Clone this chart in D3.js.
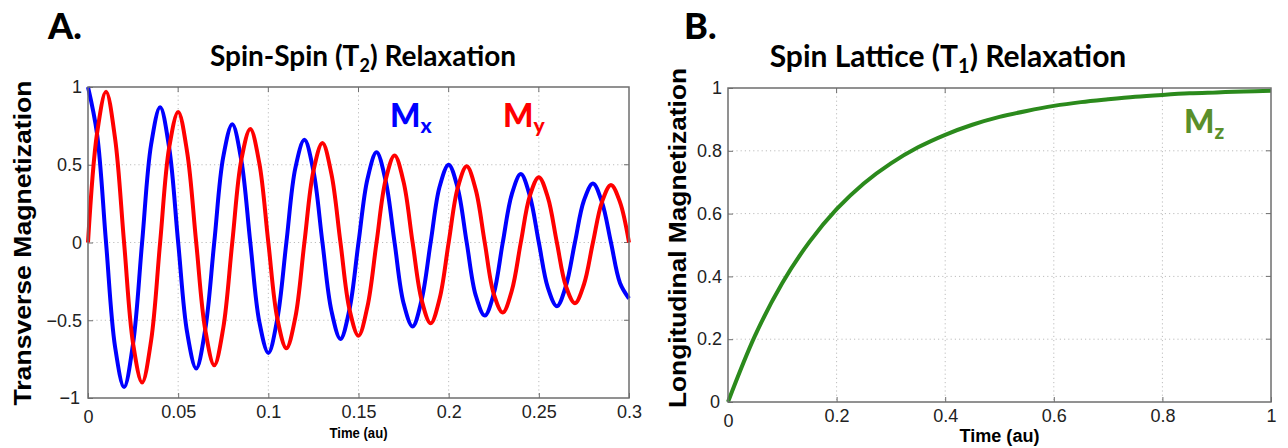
<!DOCTYPE html>
<html>
<head>
<meta charset="utf-8">
<script src="https://cdn.jsdelivr.net/npm/d3@7"></script>
<style>
	body { margin: 0; background: #fff; }
	svg { display: block; }
	.tick text { font-family: "Liberation Sans", Arial, sans-serif; fill: #222; }
</style>
</head>
<body>
<div id="chart"></div>
<script>
// Spin-spin (T2) panel: time samples every 0.005 au
const t2Time = [
	0, 0.005, 0.01, 0.015, 0.02, 0.025, 0.03, 0.035, 0.04, 0.045,
	0.05, 0.055, 0.06, 0.065, 0.07, 0.075, 0.08, 0.085, 0.09, 0.095,
	0.1, 0.105, 0.11, 0.115, 0.12, 0.125, 0.13, 0.135, 0.14, 0.145,
	0.15, 0.155, 0.16, 0.165, 0.17, 0.175, 0.18, 0.185, 0.19, 0.195,
	0.2, 0.205, 0.21, 0.215, 0.22, 0.225, 0.23, 0.235, 0.24, 0.245,
	0.25, 0.255, 0.26, 0.265, 0.27, 0.275, 0.28, 0.285, 0.29, 0.295, 0.3
];
const mxValues = [
	1.00, 0.70, 0, -0.67, -0.93, -0.65, 0, 0.63, 0.87, 0.61,
	0, -0.58, -0.81, -0.56, 0, 0.55, 0.76, 0.53, 0, -0.51,
	-0.71, -0.49, 0, 0.48, 0.66, 0.46, 0, -0.44, -0.62, -0.43,
	0, 0.41, 0.58, 0.40, 0, -0.39, -0.54, -0.37, 0, 0.36,
	0.50, 0.35, 0, -0.34, -0.47, -0.33, 0, 0.31, 0.44, 0.30,
	0, -0.29, -0.41, -0.28, 0, 0.27, 0.38, 0.26, 0, -0.26, -0.36
];
const myValues = [
	0, 0.70, 0.97, 0.67, 0, -0.65, -0.90, -0.63, 0, 0.61,
	0.84, 0.58, 0, -0.56, -0.79, -0.55, 0, 0.53, 0.73, 0.51,
	0, -0.49, -0.68, -0.48, 0, 0.46, 0.64, 0.44, 0, -0.43,
	-0.60, -0.41, 0, 0.40, 0.56, 0.39, 0, -0.37, -0.52, -0.36,
	0, 0.35, 0.49, 0.34, 0, -0.33, -0.45, -0.31, 0, 0.30,
	0.42, 0.29, 0, -0.28, -0.39, -0.27, 0, 0.26, 0.37, 0.26, 0
];
const t2XTicks = [0, 0.05, 0.1, 0.15, 0.2, 0.25, 0.3];
const t2XLabels = ['0', '0.05', '0.1', '0.15', '0.2', '0.25', '0.3'];
const t2YTicks = [-1, -0.5, 0, 0.5, 1];
const t2YLabels = ['\u22121', '\u22120.5', '0', '0.5', '1'];

// Spin-lattice (T1) panel: time samples every 0.05 au
const t1Time = [0, 0.05, 0.1, 0.15, 0.2, 0.25, 0.3, 0.35, 0.4, 0.45, 0.5,
	0.55, 0.6, 0.65, 0.7, 0.75, 0.8, 0.85, 0.9, 0.95, 1];
const mzValues = [0, 0.212, 0.379, 0.510, 0.614, 0.696, 0.760, 0.811, 0.851, 0.883, 0.908,
	0.927, 0.943, 0.955, 0.964, 0.972, 0.978, 0.983, 0.986, 0.989, 0.991];
const t1XTicks = [0, 0.2, 0.4, 0.6, 0.8, 1];
const t1XLabels = ['0', '0.2', '0.4', '0.6', '0.8', '1'];
const t1YTicks = [0, 0.2, 0.4, 0.6, 0.8, 1];
const t1YLabels = ['0', '0.2', '0.4', '0.6', '0.8', '1'];

const 	blue = '#0000ff',
		red = '#ff0000',
		green = '#2b8a1c',
		labelGreen = '#5a8f2a',
		frameColor = '#6e6e6e',
		titleFont = 'Lato, "Open Sans", sans-serif',
		axisFont = '"Liberation Sans", Arial, sans-serif';

const width = 1288, height = 448;

const svg = d3.select('#chart').append('svg')
	.attr('width', width)
	.attr('height', height);

function panel(opt){
	const x = d3.scaleLinear().domain(opt.xDomain).range([opt.left, opt.right]),
		y = d3.scaleLinear().domain(opt.yDomain).range([opt.bottom, opt.top]);

	const g = svg.append('g').attr('class', opt.name);

	// dotted grid at every tick
	g.append('g').selectAll('line.vgrid')
		.data(opt.xTicks.slice(1, -1))
		.enter().append('line')
			.attr('x1', d => x(d)).attr('x2', d => x(d))
			.attr('y1', opt.top).attr('y2', opt.bottom)
			.style('stroke', '#bdbdbd')
			.style('stroke-dasharray', '1.2,3');
	g.append('g').selectAll('line.hgrid')
		.data(opt.yTicks.slice(1, -1))
		.enter().append('line')
			.attr('y1', d => y(d)).attr('y2', d => y(d))
			.attr('x1', opt.left).attr('x2', opt.right)
			.style('stroke', '#bdbdbd')
			.style('stroke-dasharray', '1.2,3');

	// axes: ticks point inwards like matlab
	const xAxis = g.append('g')
		.attr('transform', `translate(0,${opt.bottom})`)
		.call(d3.axisBottom(x).tickValues(opt.xTicks)
			.tickFormat((d, i) => opt.xLabels[i])
			.tickSizeInner(-5).tickSizeOuter(0).tickPadding(7));
	const yAxis = g.append('g')
		.attr('transform', `translate(${opt.left},0)`)
		.call(d3.axisLeft(y).tickValues(opt.yTicks)
			.tickFormat((d, i) => opt.yLabels[i])
			.tickSizeInner(-5).tickSizeOuter(0).tickPadding(6));
	[xAxis, yAxis].forEach(a => {
		a.select('.domain').remove();
		a.selectAll('.tick line').style('stroke', frameColor);
		a.selectAll('.tick text').style('font-size', '18px');
	});
	// the matlab corner labels sit a bit off
	xAxis.select('.tick text').attr('dy', '1.0em');
	yAxis.selectAll('.tick text').filter(d => d === opt.yDomain[0]).attr('dx', '-2');

	// matching ticks on top and right edges
	g.append('g').selectAll('line')
		.data(opt.xTicks.slice(1, -1))
		.enter().append('line')
			.attr('x1', d => x(d)).attr('x2', d => x(d))
			.attr('y1', opt.top).attr('y2', opt.top + 5)
			.style('stroke', frameColor);
	g.append('g').selectAll('line')
		.data(opt.yTicks.slice(1, -1))
		.enter().append('line')
			.attr('y1', d => y(d)).attr('y2', d => y(d))
			.attr('x1', opt.right).attr('x2', opt.right - 5)
			.style('stroke', frameColor);

	// the lines
	const line = d3.line()
		.x(d => x(d[0]))
		.y(d => y(d[1]))
		.curve(d3.curveCatmullRom.alpha(0.5));

	opt.series.forEach(s => {
		g.append('path')
			.datum(opt.time.map((t, i) => [t, s.values[i]]))
			.attr('d', line)
			.style('fill', 'none')
			.style('stroke', s.color)
			.style('stroke-width', 4)
			.style('stroke-linejoin', 'round');
	});

	// frame
	g.append('rect')
		.attr('x', opt.left).attr('y', opt.top)
		.attr('width', opt.right - opt.left)
		.attr('height', opt.bottom - opt.top)
		.style('fill', 'none')
		.style('stroke', frameColor)
		.style('stroke-width', 1.5);

	// axis titles
	g.append('text')
		.attr('x', (opt.left + opt.right) / 2)
		.attr('y', opt.xTitleY)
		.attr('text-anchor', 'middle')
		.attr('textLength', opt.xTitleLength)
		.attr('lengthAdjust', 'spacingAndGlyphs')
		.style('font-family', axisFont)
		.style('font-weight', 'bold')
		.style('font-size', opt.xTitleSize + 'px')
		.text('Time (au)');

	g.append('text')
		.attr('transform', `translate(${opt.yTitleX},${opt.yTitleY}) rotate(-90)`)
		.attr('text-anchor', 'middle')
		.attr('textLength', opt.yTitleLength)
		.attr('lengthAdjust', 'spacingAndGlyphs')
		.style('font-family', axisFont)
		.style('font-weight', 'bold')
		.style('font-size', '24px')
		.text(opt.yTitle);

	// panel letter and title
	g.append('text')
		.attr('x', opt.letterX).attr('y', 39)
		.style('font-family', titleFont)
		.style('font-weight', 900)
		.style('font-size', '36px')
		.text(opt.letter);

	const sub = Math.round(opt.titleSize * 0.65);
	const title = g.append('text')
		.attr('x', opt.titleX).attr('y', opt.titleY)
		.attr('text-anchor', 'middle')
		.style('font-family', titleFont)
		.style('font-weight', 'bold')
		.style('font-size', opt.titleSize + 'px');
	title.append('tspan').text(opt.title[0]);
	title.append('tspan').attr('dy', 6).style('font-size', sub + 'px').text(opt.title[1]);
	title.append('tspan').attr('dy', -6).text(opt.title[2]);

	// in-plot labels
	opt.labels.forEach(l => {
		const t = g.append('text')
			.attr('x', l.x).attr('y', l.y)
			.style('font-family', titleFont)
			.style('font-weight', 900)
			.style('font-size', '32px')
			.style('fill', l.color);
		t.append('tspan').text('M');
		t.append('tspan').attr('dy', 6).style('font-size', '21px').text(l.sub);
	});
}

panel({
	name: 't2',
	left: 88, right: 629, top: 87, bottom: 398,
	xDomain: [0, 0.3], yDomain: [-1, 1],
	xTicks: t2XTicks, xLabels: t2XLabels,
	yTicks: t2YTicks, yLabels: t2YLabels,
	time: t2Time,
	series: [
		{values: mxValues, color: blue},
		{values: myValues, color: red}
	],
	xTitleY: 438, xTitleSize: 15, xTitleLength: 58,
	yTitle: 'Transverse Magnetization', yTitleX: 31, yTitleY: 243, yTitleLength: 325,
	letter: 'A.', letterX: 48,
	title: ['Spin-Spin (T', '2', ') Relaxation'], titleX: 363, titleY: 66, titleSize: 28,
	labels: [
		{x: 390, y: 127, sub: 'x', color: blue},
		{x: 503, y: 127, sub: 'y', color: red}
	]
});

panel({
	name: 't1',
	left: 728, right: 1271, top: 88, bottom: 402,
	xDomain: [0, 1], yDomain: [0, 1],
	xTicks: t1XTicks, xLabels: t1XLabels,
	yTicks: t1YTicks, yLabels: t1YLabels,
	time: t1Time,
	series: [
		{values: mzValues, color: green}
	],
	xTitleY: 442, xTitleSize: 18, xTitleLength: 80,
	yTitle: 'Longitudinal Magnetization', yTitleX: 686, yTitleY: 238, yTitleLength: 340,
	letter: 'B.', letterX: 684,
	title: ['Spin Lattice (T', '1', ') Relaxation'], titleX: 948, titleY: 67, titleSize: 30,
	labels: [
		{x: 1184, y: 133, sub: 'z', color: labelGreen}
	]
});
</script>
</body>
</html>
